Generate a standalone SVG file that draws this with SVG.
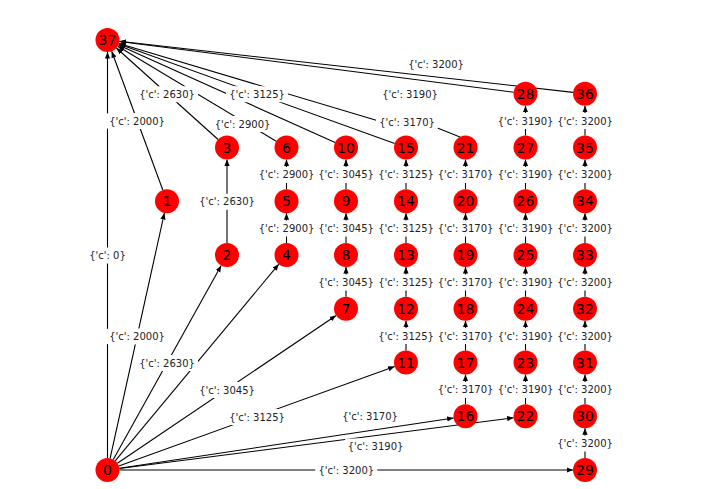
<svg xmlns="http://www.w3.org/2000/svg" width="711" height="489" viewBox="0 0 711 489">
<style>
.e{stroke:#000;stroke-width:1.1;fill:none;marker-end:url(#ah)}
.n circle{fill:#ff0000}
.n text{font-family:"DejaVu Sans",sans-serif;font-size:14px;text-anchor:middle;fill:#000}
.l rect{fill:#fff}
.l text{font-family:"DejaVu Sans",sans-serif;font-size:10px;text-anchor:middle;fill:#222}
</style>
<defs>
<marker id="ah" viewBox="0 0 10 10" refX="10" refY="5" markerWidth="6.5" markerHeight="6.5" markerUnits="userSpaceOnUse" orient="auto"><path d="M0,1 L10,5 L0,9 z" fill="#000"/></marker>
</defs>
<rect width="711" height="489" fill="#fff"/>
<g id="edges">
<line class="e" x1="107.5" y1="458" x2="107.5" y2="52"/>
<line class="e" x1="110.1" y1="458.3" x2="164.4" y2="213"/>
<line class="e" x1="113.3" y1="459.5" x2="221.2" y2="265.5"/>
<line class="e" x1="115.2" y1="460.8" x2="278.8" y2="264.2"/>
<line class="e" x1="117.4" y1="463.3" x2="336.1" y2="315.5"/>
<line class="e" x1="118.8" y1="465.9" x2="394.7" y2="366.6"/>
<line class="e" x1="119.4" y1="468.2" x2="453.6" y2="418"/>
<line class="e" x1="119.4" y1="468.5" x2="513.6" y2="417.8"/>
<line class="e" x1="119.5" y1="470" x2="573" y2="470"/>
<line class="e" x1="162.8" y1="190" x2="111.7" y2="51.3"/>
<line class="e" x1="218.1" y1="139.5" x2="116.4" y2="48"/>
<line class="e" x1="276.2" y1="141.3" x2="117.8" y2="46.2"/>
<line class="e" x1="335.1" y1="142.6" x2="118.4" y2="44.9"/>
<line class="e" x1="394.7" y1="143.4" x2="118.8" y2="44.1"/>
<path class="e" d="M460,137 L435,127 L377,120.5 L119,43.5"/>
<line class="e" x1="513.6" y1="92.2" x2="119.4" y2="41.5"/>
<line class="e" x1="573.1" y1="92.4" x2="119.4" y2="41.3"/>
<line class="e" x1="227" y1="243" x2="227" y2="159.5"/>
<line class="e" x1="286.5" y1="243" x2="286.5" y2="213.25"/>
<line class="e" x1="286.5" y1="189.25" x2="286.5" y2="159.5"/>
<line class="e" x1="346" y1="296.75" x2="346" y2="267"/>
<line class="e" x1="346" y1="243" x2="346" y2="213.25"/>
<line class="e" x1="346" y1="189.25" x2="346" y2="159.5"/>
<line class="e" x1="406" y1="350.5" x2="406" y2="320.75"/>
<line class="e" x1="406" y1="296.75" x2="406" y2="267"/>
<line class="e" x1="406" y1="243" x2="406" y2="213.25"/>
<line class="e" x1="406" y1="189.25" x2="406" y2="159.5"/>
<line class="e" x1="465.5" y1="404.25" x2="465.5" y2="374.5"/>
<line class="e" x1="465.5" y1="350.5" x2="465.5" y2="320.75"/>
<line class="e" x1="465.5" y1="296.75" x2="465.5" y2="267"/>
<line class="e" x1="465.5" y1="243" x2="465.5" y2="213.25"/>
<line class="e" x1="465.5" y1="189.25" x2="465.5" y2="159.5"/>
<line class="e" x1="525.5" y1="404.25" x2="525.5" y2="374.5"/>
<line class="e" x1="525.5" y1="350.5" x2="525.5" y2="320.75"/>
<line class="e" x1="525.5" y1="296.75" x2="525.5" y2="267"/>
<line class="e" x1="525.5" y1="243" x2="525.5" y2="213.25"/>
<line class="e" x1="525.5" y1="189.25" x2="525.5" y2="159.5"/>
<line class="e" x1="525.5" y1="135.5" x2="525.5" y2="105.75"/>
<line class="e" x1="585" y1="458" x2="585" y2="428.25"/>
<line class="e" x1="585" y1="404.25" x2="585" y2="374.5"/>
<line class="e" x1="585" y1="350.5" x2="585" y2="320.75"/>
<line class="e" x1="585" y1="296.75" x2="585" y2="267"/>
<line class="e" x1="585" y1="243" x2="585" y2="213.25"/>
<line class="e" x1="585" y1="189.25" x2="585" y2="159.5"/>
<line class="e" x1="585" y1="135.5" x2="585" y2="105.75"/>
</g>
<g id="edge-labels" class="l">
<g transform="translate(107.5,255)"><rect x="-21" y="-7.5" width="42" height="16" rx="3"/><text y="4">{'c': 0}</text></g>
<g transform="translate(137,336)"><rect x="-31" y="-7.5" width="62" height="16" rx="3"/><text y="4">{'c': 2000}</text></g>
<g transform="translate(137,120.5)"><rect x="-31" y="-7.5" width="62" height="16" rx="3"/><text y="4">{'c': 2000}</text></g>
<g transform="translate(167,362.5)"><rect x="-31" y="-7.5" width="62" height="16" rx="3"/><text y="4">{'c': 2630}</text></g>
<g transform="translate(227,201.25)"><rect x="-31" y="-7.5" width="62" height="16" rx="3"/><text y="4">{'c': 2630}</text></g>
<g transform="translate(167,93.75)"><rect x="-31" y="-7.5" width="62" height="16" rx="3"/><text y="4">{'c': 2630}</text></g>
<g transform="translate(242.5,123.5)"><rect x="-31" y="-7.5" width="62" height="16" rx="3"/><text y="4">{'c': 2900}</text></g>
<g transform="translate(227,389.5)"><rect x="-31" y="-7.5" width="62" height="16" rx="3"/><text y="4">{'c': 3045}</text></g>
<g transform="translate(257,416.5)"><rect x="-31" y="-7.5" width="62" height="16" rx="3"/><text y="4">{'c': 3125}</text></g>
<g transform="translate(257,93.75)"><rect x="-31" y="-7.5" width="62" height="16" rx="3"/><text y="4">{'c': 3125}</text></g>
<g transform="translate(370,415.5)"><rect x="-31" y="-7.5" width="62" height="16" rx="3"/><text y="4">{'c': 3170}</text></g>
<g transform="translate(407,121.5)"><rect x="-31" y="-7.5" width="62" height="16" rx="3"/><text y="4">{'c': 3170}</text></g>
<g transform="translate(375.5,446)"><rect x="-31" y="-7.5" width="62" height="16" rx="3"/><text y="4">{'c': 3190}</text></g>
<g transform="translate(410,93.5)"><rect x="-31" y="-7.5" width="62" height="16" rx="3"/><text y="4">{'c': 3190}</text></g>
<g transform="translate(346.25,470)"><rect x="-31" y="-7.5" width="62" height="16" rx="3"/><text y="4">{'c': 3200}</text></g>
<g transform="translate(436,64)"><rect x="-31" y="-7.5" width="62" height="16" rx="3"/><text y="4">{'c': 3200}</text></g>
<g transform="translate(286.5,228.1)"><rect x="-31" y="-7.5" width="62" height="16" rx="3"/><text y="4">{'c': 2900}</text></g>
<g transform="translate(286.5,174.4)"><rect x="-31" y="-7.5" width="62" height="16" rx="3"/><text y="4">{'c': 2900}</text></g>
<g transform="translate(346,281.9)"><rect x="-31" y="-7.5" width="62" height="16" rx="3"/><text y="4">{'c': 3045}</text></g>
<g transform="translate(346,228.1)"><rect x="-31" y="-7.5" width="62" height="16" rx="3"/><text y="4">{'c': 3045}</text></g>
<g transform="translate(346,174.4)"><rect x="-31" y="-7.5" width="62" height="16" rx="3"/><text y="4">{'c': 3045}</text></g>
<g transform="translate(406,335.6)"><rect x="-31" y="-7.5" width="62" height="16" rx="3"/><text y="4">{'c': 3125}</text></g>
<g transform="translate(406,281.9)"><rect x="-31" y="-7.5" width="62" height="16" rx="3"/><text y="4">{'c': 3125}</text></g>
<g transform="translate(406,228.1)"><rect x="-31" y="-7.5" width="62" height="16" rx="3"/><text y="4">{'c': 3125}</text></g>
<g transform="translate(406,174.4)"><rect x="-31" y="-7.5" width="62" height="16" rx="3"/><text y="4">{'c': 3125}</text></g>
<g transform="translate(465.5,389.4)"><rect x="-31" y="-7.5" width="62" height="16" rx="3"/><text y="4">{'c': 3170}</text></g>
<g transform="translate(465.5,335.6)"><rect x="-31" y="-7.5" width="62" height="16" rx="3"/><text y="4">{'c': 3170}</text></g>
<g transform="translate(465.5,281.9)"><rect x="-31" y="-7.5" width="62" height="16" rx="3"/><text y="4">{'c': 3170}</text></g>
<g transform="translate(465.5,228.1)"><rect x="-31" y="-7.5" width="62" height="16" rx="3"/><text y="4">{'c': 3170}</text></g>
<g transform="translate(465.5,174.4)"><rect x="-31" y="-7.5" width="62" height="16" rx="3"/><text y="4">{'c': 3170}</text></g>
<g transform="translate(525.5,389.4)"><rect x="-31" y="-7.5" width="62" height="16" rx="3"/><text y="4">{'c': 3190}</text></g>
<g transform="translate(525.5,335.6)"><rect x="-31" y="-7.5" width="62" height="16" rx="3"/><text y="4">{'c': 3190}</text></g>
<g transform="translate(525.5,281.9)"><rect x="-31" y="-7.5" width="62" height="16" rx="3"/><text y="4">{'c': 3190}</text></g>
<g transform="translate(525.5,228.1)"><rect x="-31" y="-7.5" width="62" height="16" rx="3"/><text y="4">{'c': 3190}</text></g>
<g transform="translate(525.5,174.4)"><rect x="-31" y="-7.5" width="62" height="16" rx="3"/><text y="4">{'c': 3190}</text></g>
<g transform="translate(525.5,120.6)"><rect x="-31" y="-7.5" width="62" height="16" rx="3"/><text y="4">{'c': 3190}</text></g>
<g transform="translate(585,443.1)"><rect x="-31" y="-7.5" width="62" height="16" rx="3"/><text y="4">{'c': 3200}</text></g>
<g transform="translate(585,389.4)"><rect x="-31" y="-7.5" width="62" height="16" rx="3"/><text y="4">{'c': 3200}</text></g>
<g transform="translate(585,335.6)"><rect x="-31" y="-7.5" width="62" height="16" rx="3"/><text y="4">{'c': 3200}</text></g>
<g transform="translate(585,281.9)"><rect x="-31" y="-7.5" width="62" height="16" rx="3"/><text y="4">{'c': 3200}</text></g>
<g transform="translate(585,228.1)"><rect x="-31" y="-7.5" width="62" height="16" rx="3"/><text y="4">{'c': 3200}</text></g>
<g transform="translate(585,174.4)"><rect x="-31" y="-7.5" width="62" height="16" rx="3"/><text y="4">{'c': 3200}</text></g>
<g transform="translate(585,120.6)"><rect x="-31" y="-7.5" width="62" height="16" rx="3"/><text y="4">{'c': 3200}</text></g>
</g>
<g id="nodes" class="n">
<g id="node-37"><circle cx="107.5" cy="40" r="12"/><text x="107.5" y="45">37</text></g>
<g id="node-0"><circle cx="107.5" cy="470" r="12"/><text x="107.5" y="475">0</text></g>
<g id="node-1"><circle cx="167" cy="201.25" r="12"/><text x="167" y="206.25">1</text></g>
<g id="node-2"><circle cx="227" cy="255" r="12"/><text x="227" y="260">2</text></g>
<g id="node-3"><circle cx="227" cy="147.5" r="12"/><text x="227" y="152.5">3</text></g>
<g id="node-4"><circle cx="286.5" cy="255" r="12"/><text x="286.5" y="260">4</text></g>
<g id="node-5"><circle cx="286.5" cy="201.25" r="12"/><text x="286.5" y="206.25">5</text></g>
<g id="node-6"><circle cx="286.5" cy="147.5" r="12"/><text x="286.5" y="152.5">6</text></g>
<g id="node-7"><circle cx="346" cy="308.75" r="12"/><text x="346" y="313.75">7</text></g>
<g id="node-8"><circle cx="346" cy="255" r="12"/><text x="346" y="260">8</text></g>
<g id="node-9"><circle cx="346" cy="201.25" r="12"/><text x="346" y="206.25">9</text></g>
<g id="node-10"><circle cx="346" cy="147.5" r="12"/><text x="346" y="152.5">10</text></g>
<g id="node-11"><circle cx="406" cy="362.5" r="12"/><text x="406" y="367.5">11</text></g>
<g id="node-12"><circle cx="406" cy="308.75" r="12"/><text x="406" y="313.75">12</text></g>
<g id="node-13"><circle cx="406" cy="255" r="12"/><text x="406" y="260">13</text></g>
<g id="node-14"><circle cx="406" cy="201.25" r="12"/><text x="406" y="206.25">14</text></g>
<g id="node-15"><circle cx="406" cy="147.5" r="12"/><text x="406" y="152.5">15</text></g>
<g id="node-16"><circle cx="465.5" cy="416.25" r="12"/><text x="465.5" y="421.25">16</text></g>
<g id="node-17"><circle cx="465.5" cy="362.5" r="12"/><text x="465.5" y="367.5">17</text></g>
<g id="node-18"><circle cx="465.5" cy="308.75" r="12"/><text x="465.5" y="313.75">18</text></g>
<g id="node-19"><circle cx="465.5" cy="255" r="12"/><text x="465.5" y="260">19</text></g>
<g id="node-20"><circle cx="465.5" cy="201.25" r="12"/><text x="465.5" y="206.25">20</text></g>
<g id="node-21"><circle cx="465.5" cy="147.5" r="12"/><text x="465.5" y="152.5">21</text></g>
<g id="node-22"><circle cx="525.5" cy="416.25" r="12"/><text x="525.5" y="421.25">22</text></g>
<g id="node-23"><circle cx="525.5" cy="362.5" r="12"/><text x="525.5" y="367.5">23</text></g>
<g id="node-24"><circle cx="525.5" cy="308.75" r="12"/><text x="525.5" y="313.75">24</text></g>
<g id="node-25"><circle cx="525.5" cy="255" r="12"/><text x="525.5" y="260">25</text></g>
<g id="node-26"><circle cx="525.5" cy="201.25" r="12"/><text x="525.5" y="206.25">26</text></g>
<g id="node-27"><circle cx="525.5" cy="147.5" r="12"/><text x="525.5" y="152.5">27</text></g>
<g id="node-28"><circle cx="525.5" cy="93.75" r="12"/><text x="525.5" y="98.75">28</text></g>
<g id="node-29"><circle cx="585" cy="470" r="12"/><text x="585" y="475">29</text></g>
<g id="node-30"><circle cx="585" cy="416.25" r="12"/><text x="585" y="421.25">30</text></g>
<g id="node-31"><circle cx="585" cy="362.5" r="12"/><text x="585" y="367.5">31</text></g>
<g id="node-32"><circle cx="585" cy="308.75" r="12"/><text x="585" y="313.75">32</text></g>
<g id="node-33"><circle cx="585" cy="255" r="12"/><text x="585" y="260">33</text></g>
<g id="node-34"><circle cx="585" cy="201.25" r="12"/><text x="585" y="206.25">34</text></g>
<g id="node-35"><circle cx="585" cy="147.5" r="12"/><text x="585" y="152.5">35</text></g>
<g id="node-36"><circle cx="585" cy="93.75" r="12"/><text x="585" y="98.75">36</text></g>
</g>
</svg>
